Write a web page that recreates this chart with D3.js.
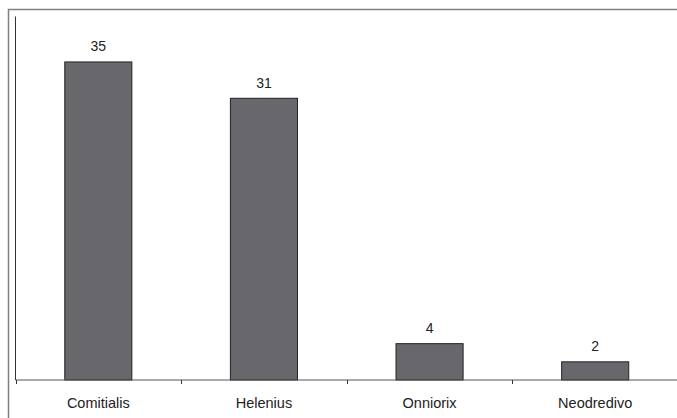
<!DOCTYPE html>
<html>
<head>
<meta charset="utf-8">
<script src="https://cdn.jsdelivr.net/npm/d3@7"></script>
<style>
  body { margin: 0; background: #fff; }
  svg { display: block; font-family: "Liberation Sans", Arial, sans-serif; }
</style>
</head>
<body>
<script>
var categories = ['Comitialis', 'Helenius', 'Onniorix', 'Neodredivo'];
var values = [35, 31, 4, 2];

var width = 677;
var height = 418;
var plotLeft = 15.5, plotRight = 678, plotTop = 16.5, plotBottom = 380;

var svg = d3.select('body').append('svg').attr('width', width).attr('height', height);

// outer frame (runs off the right and bottom edge)
svg.append('path')
  .attr('d', 'M8.5,' + (height + 2) + 'V9.5H' + (width + 2))
  .attr('fill', 'none')
  .attr('stroke', '#808080')
  .attr('stroke-width', 1.5);

var x = d3.scaleBand().domain(categories).range([plotLeft, plotRight]).paddingInner(0).paddingOuter(0);
var y = d3.scaleLinear().domain([0, 40]).range([plotBottom, plotTop]);

var barW = x.bandwidth() * 0.405;

svg.selectAll('rect.bar')
  .data(values)
  .enter()
  .append('rect')
  .attr('class', 'bar')
  .attr('x', (d, i) => x(categories[i]) + x.bandwidth() / 2 - barW / 2)
  .attr('y', (d) => y(d))
  .attr('width', barW)
  .attr('height', (d) => plotBottom - y(d))
  .attr('fill', '#68686c')
  .attr('stroke', '#222')
  .attr('stroke-width', 1);

svg.selectAll('text.val')
  .data(values)
  .enter()
  .append('text')
  .attr('class', 'val')
  .attr('x', (d, i) => x(categories[i]) + x.bandwidth() / 2)
  .attr('y', (d) => y(d) - 10.5)
  .attr('text-anchor', 'middle')
  .attr('font-size', 14)
  .attr('fill', '#222')
  .text((d) => d);

// y axis line
svg.append('line')
  .attr('x1', plotLeft).attr('x2', plotLeft)
  .attr('y1', y(40)).attr('y2', plotBottom)
  .attr('stroke', '#333');

// x axis with ticks between categories
svg.append('line')
  .attr('x1', plotLeft).attr('x2', width)
  .attr('y1', plotBottom).attr('y2', plotBottom)
  .attr('stroke', '#555');

svg.selectAll('line.tick')
  .data(categories)
  .enter()
  .append('line')
  .attr('class', 'tick')
  .attr('x1', (d) => Math.round(x(d)) + 0.5)
  .attr('x2', (d) => Math.round(x(d)) + 0.5)
  .attr('y1', plotBottom).attr('y2', plotBottom + 4)
  .attr('stroke', '#333');

svg.selectAll('text.cat')
  .data(categories)
  .enter()
  .append('text')
  .attr('class', 'cat')
  .attr('x', (d) => x(d) + x.bandwidth() / 2)
  .attr('y', 408)
  .attr('text-anchor', 'middle')
  .attr('font-size', 14.5)
  .attr('fill', '#222')
  .text((d) => d);
</script>
</body>
</html>
